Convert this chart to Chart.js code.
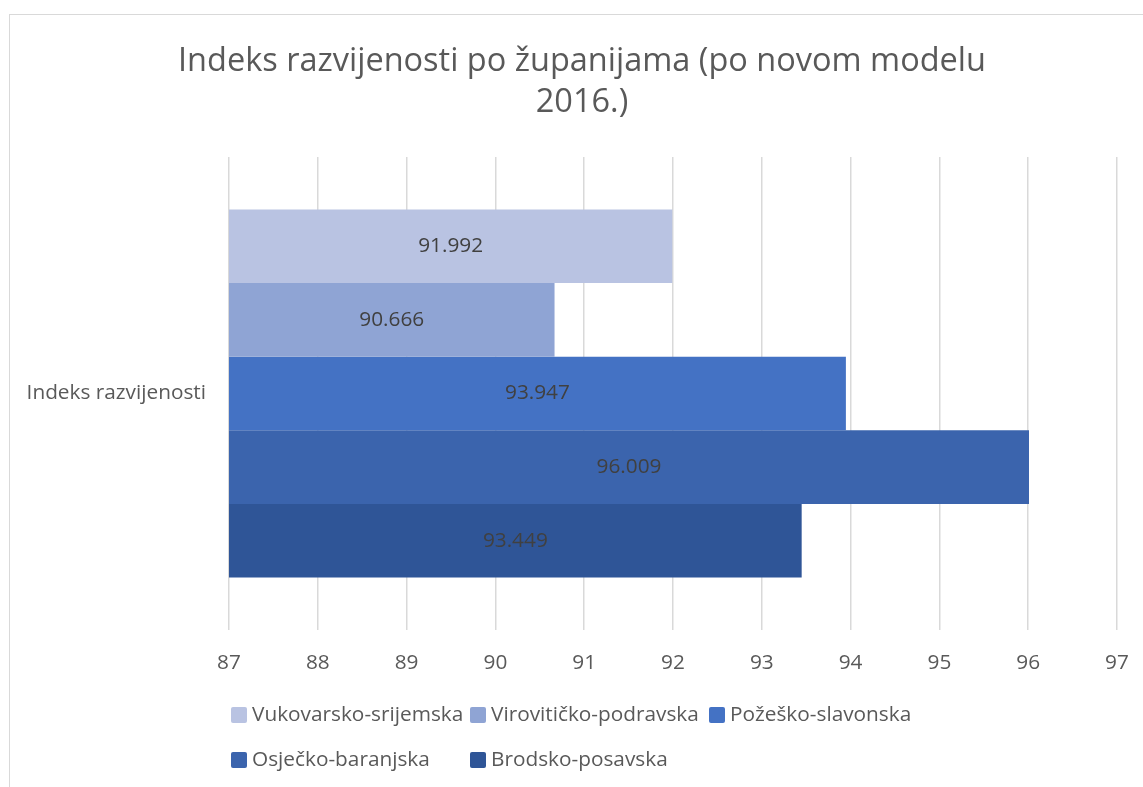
<!DOCTYPE html>
<html>
<head>
<meta charset="utf-8">
<script src="https://cdn.jsdelivr.net/npm/chart.js@4/dist/chart.umd.min.js"></script>
<style>
  html, body { margin: 0; padding: 0; background: #fff; overflow: hidden; }
  canvas { display: block; }
</style>
</head>
<body>
<canvas id="chart" width="1165" height="787"></canvas>
<script>
const titleLines = ['Indeks razvijenosti po županijama (po novom modelu', '2016.)'];
const categories = ['Indeks razvijenosti'];
const counties = ['Vukovarsko-srijemska', 'Virovitičko-podravska', 'Požeško-slavonska', 'Osječko-baranjska', 'Brodsko-posavska'];
const values = [91.992, 90.666, 93.947, 96.009, 93.449];
const colors = ['#b9c3e2', '#8fa4d4', '#4472c4', '#3b64ad', '#2f5597'];
const axisMin = 87, axisMax = 97;

const FONT = "'Open Sans', sans-serif";
const TEXT = '#595959';
const LABEL_SIZE = 20.8;

const ctx = document.querySelector("#chart").getContext("2d");

// frame around the chart + title (centred on the frame, not the canvas)
const framePlugin = {
    id: 'frame',
    beforeDraw(chart) {
        const c = chart.ctx;
        c.save();
        c.fillStyle = '#fff';
        c.fillRect(0, 0, chart.width, chart.height);
        c.strokeStyle = '#d9d9d9';
        c.lineWidth = 1;
        c.strokeRect(9.5, 14.5, chart.width, chart.height);
        c.font = "32.5px " + FONT;
        c.fillStyle = TEXT;
        c.textAlign = 'center';
        c.textBaseline = 'middle';
        titleLines.forEach((line, i) => c.fillText(line, 582, 62 + i * 41));
        c.restore();
    }
};

// value labels centred in each bar
const valueLabels = {
    id: 'valueLabels',
    afterDraw(chart) {
        const c = chart.ctx;
        const xs = chart.scales.x;
        c.save();
        c.font = LABEL_SIZE + "px " + FONT;
        c.fillStyle = '#404040';
        c.textAlign = 'center';
        c.textBaseline = 'middle';
        chart.data.datasets.forEach((ds, i) => {
            const meta = chart.getDatasetMeta(i);
            meta.data.forEach((bar, j) => {
                const v = ds.data[j];
                const x0 = xs.getPixelForValue(axisMin);
                const x1 = xs.getPixelForValue(v);
                c.fillText(v.toFixed(3), (x0 + x1) / 2, bar.y);
            });
        });
        c.restore();
    }
};

// legend in a 3-column grid, left aligned like the original
const gridLegend = {
    id: 'gridLegend',
    afterDraw(chart) {
        const c = chart.ctx;
        c.save();
        c.font = LABEL_SIZE + "px " + FONT;
        c.textBaseline = 'middle';
        c.textAlign = 'left';
        chart.data.datasets.forEach((ds, i) => {
            const x = 231 + (i % 3) * 239;
            const y = 715 + Math.floor(i / 3) * 45;
            c.fillStyle = ds.backgroundColor;
            c.beginPath();
            c.roundRect(x, y - 8, 16, 16, 2);
            c.fill();
            c.fillStyle = TEXT;
            c.fillText(ds.label, x + 21, y);
        });
        c.restore();
    }
};

const config = {
    type: 'bar',
    data: {
        labels: categories,
        datasets: counties.map((name, i) => ({
            label: name,
            data: [values[i]],
            backgroundColor: colors[i],
            borderWidth: 0,
            barPercentage: 1,
            categoryPercentage: 0.778
        }))
    },
    options: {
        indexAxis: 'y',
        responsive: false,
        animation: false,
        layout: { padding: { left: 0, right: 48, top: 157, bottom: 0 } },
        plugins: {
            legend: { display: false },
            tooltip: { enabled: false },
            title: { display: false }
        },
        scales: {
            x: {
                min: axisMin,
                max: axisMax,
                ticks: {
                    stepSize: 1,
                    color: TEXT,
                    padding: 21,
                    font: { family: FONT, size: LABEL_SIZE }
                },
                grid: { color: '#d9d9d9', lineWidth: 1.5, drawTicks: false },
                border: { display: false },
                afterFit(scale) { scale.height = 157; }
            },
            y: {
                ticks: {
                    color: TEXT,
                    padding: 15,
                    font: { family: FONT, size: LABEL_SIZE }
                },
                grid: { display: false },
                border: { display: false },
                afterFit(scale) { scale.width = 229; }
            }
        }
    },
    plugins: [framePlugin, valueLabels, gridLegend]
};

const myChart = new Chart(ctx, config);
</script>
</body>
</html>
